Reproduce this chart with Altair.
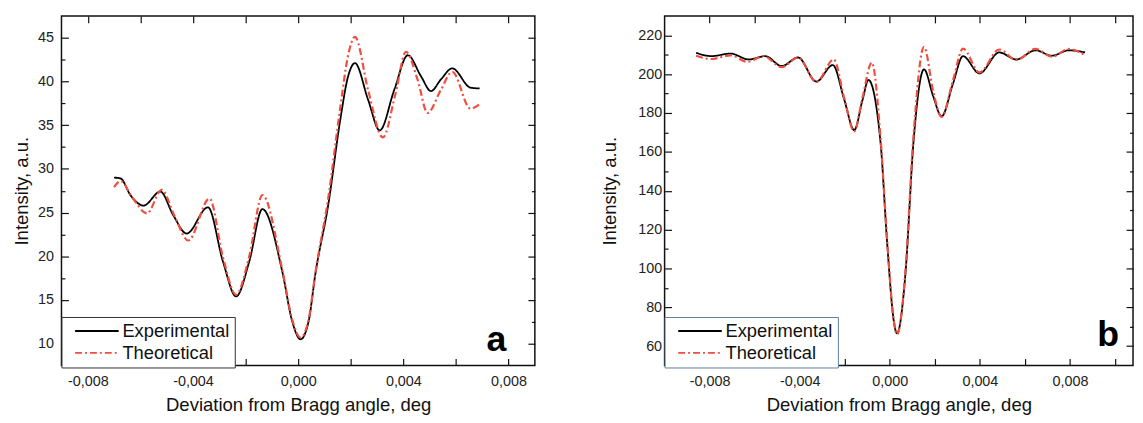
import altair as alt
import pandas as pd

FONT = "Liberation Sans"
RED = "#f04e3e"
DASH = [7, 3, 2, 3]
SERIES = ["Experimental", "Theoretical"]

# ---------------- panel a ----------------
a_exp_x = [-0.00700, -0.00675, -0.00638, -0.00588, -0.00524, -0.00475, -0.00424, -0.00343,
           -0.00286, -0.00236, -0.00186, -0.00136, -0.00060, -0.00023, 0.00009, 0.00040,
           0.00065, 0.00115, 0.00160, 0.00190, 0.00216, 0.00266, 0.00310, 0.00366,
           0.00417, 0.00467, 0.00505, 0.00542, 0.00586, 0.00655, 0.00690]
a_exp_y = [29.0, 28.9, 27.0, 25.8, 27.4, 24.7, 22.6, 25.6,
           19.4, 15.4, 19.4, 25.4, 18.2, 12.6, 10.5, 12.6,
           17.9, 26.0, 35.6, 40.6, 42.1, 37.9, 34.4, 39.1,
           43.0, 40.6, 38.9, 40.2, 41.5, 39.3, 39.2]
a_theo_x = [-0.00700, -0.00675, -0.00630, -0.00575, -0.00519, -0.00470, -0.00418, -0.00337,
            -0.00286, -0.00236, -0.00186, -0.00136, -0.00060, -0.00023, 0.00009, 0.00040,
            0.00065, 0.00115, 0.00160, 0.00190, 0.00216, 0.00266, 0.00322, 0.00370,
            0.00410, 0.00454, 0.00492, 0.00542, 0.00586, 0.00655, 0.00690]
a_theo_y = [27.9, 28.6, 26.7, 24.9, 27.6, 24.6, 21.8, 26.6,
            19.9, 15.6, 20.0, 27.0, 18.4, 12.8, 10.7, 12.8,
            18.0, 26.8, 37.0, 43.0, 45.1, 39.0, 33.6, 38.6,
            43.4, 40.2, 36.4, 39.0, 41.1, 36.9, 37.4]
a_xticks = [-0.008, -0.006, -0.004, -0.002, 0.0, 0.002, 0.004, 0.006, 0.008]
a_yticks = [10, 12.5, 15, 17.5, 20, 22.5, 25, 27.5, 30, 32.5, 35, 37.5, 40, 42.5, 45]

# ---------------- panel b ----------------
b_exp_x = [-0.00860, -0.00793, -0.00707, -0.00626, -0.00553, -0.00480, -0.00407, -0.00326,
           -0.00253, -0.00202, -0.00158, -0.00121, -0.00095, -0.00041, -0.00012, 0.00018,
           0.00032, 0.00069, 0.00105, 0.00152, 0.00193, 0.00230, 0.00281, 0.00325,
           0.00398, 0.00486, 0.00562, 0.00647, 0.00720, 0.00794, 0.00867]
b_exp_y = [211.0, 209.3, 210.6, 207.6, 209.3, 204.2, 208.6, 196.2,
           204.7, 186.8, 171.2, 186.8, 197.0, 164.7, 113.6, 72.7,
           66.5, 96.6, 164.7, 202.5, 188.5, 178.3, 195.3, 209.3,
           200.4, 211.2, 207.6, 212.3, 209.5, 212.3, 211.2]
b_theo_x = [-0.00860, -0.00793, -0.00707, -0.00633, -0.00560, -0.00480, -0.00407, -0.00326,
            -0.00249, -0.00202, -0.00158, -0.00121, -0.00080, -0.00041, -0.00012, 0.00018,
            0.00032, 0.00069, 0.00105, 0.00152, 0.00193, 0.00230, 0.00281, 0.00325,
            0.00398, 0.00486, 0.00562, 0.00647, 0.00720, 0.00794, 0.00867]
b_theo_y = [209.5, 207.8, 209.7, 206.4, 209.3, 203.6, 208.6, 196.0,
            207.6, 187.5, 170.5, 188.0, 206.0, 167.0, 115.0, 73.0,
            66.0, 98.0, 168.0, 214.1, 191.0, 178.0, 197.0, 213.2,
            200.9, 212.7, 207.3, 213.0, 209.0, 213.0, 209.8]
b_xticks = [-0.008, -0.006, -0.004, -0.002, 0.0, 0.002, 0.004, 0.006, 0.008, 0.010]
b_yticks = [60, 70, 80, 90, 100, 110, 120, 130, 140, 150, 160, 170, 180, 190, 200, 210, 220]


def make_df(ex, ey, tx, ty):
    return pd.concat([
        pd.DataFrame({"x": ex, "y": ey, "series": "Experimental"}),
        pd.DataFrame({"x": tx, "y": ty, "series": "Theoretical"}),
    ], ignore_index=True)


X_LABELS = ("abs(round(datum.value*1000)) % 4 === 0 ? "
            "(datum.value < -1e-9 ? '-' : '') + replace(format(abs(datum.value), '.3f'), '.', ',') : ''")


def panel(df, xdom, ydom, xticks, yticks, ymod, width, letter, lx, ly,
          legend_stroke, ylab_pad, ytitle_pad):
    xs = alt.Scale(domain=xdom, nice=False, zero=False)
    ys = alt.Scale(domain=ydom, nice=False, zero=False)
    minor = f"datum.value % {ymod} !== 0"
    ydash = {"condition": {"test": minor, "value": [3.5, 3.5]}, "value": [7, 0]}
    ydoff = {"condition": {"test": minor, "value": 3.5}, "value": 0}
    common = dict(offset=-7, tickSize=7, domain=False, grid=False,
                  tickColor="#111", tickWidth=1.2)
    legend = alt.Legend(title=None, orient="none", legendX=0, legendY=304,
                        symbolType="M-4,0H4", symbolSize=121, symbolStrokeWidth=2,
                        labelFontSize=18.5, labelFont=FONT, labelColor="#111",
                        strokeColor=legend_stroke, fillColor="white", padding=5,
                        symbolOffset=21.5, labelOffset=16.5, rowPadding=3, cornerRadius=0)
    color = alt.Color("series:N", scale=alt.Scale(domain=SERIES, range=["#000000", RED]),
                      legend=legend)
    dash = alt.StrokeDash("series:N", scale=alt.Scale(domain=SERIES, range=[[1, 0], DASH]),
                          legend=legend)

    exp = alt.Chart(df).transform_filter("datum.series === 'Experimental'").mark_line(
        strokeWidth=1.8, interpolate="monotone"
    ).encode(
        x=alt.X("x:Q", scale=xs, axis=alt.Axis(
            orient="bottom", values=xticks, labelExpr=X_LABELS, labelFlush=False,
            labelOverlap=False, labelPadding=9, title="Deviation from Bragg angle, deg",
            titlePadding=8, **common)),
        y=alt.Y("y:Q", scale=ys, axis=alt.Axis(
            orient="left", values=yticks,
            labelExpr=f"datum.value % {ymod} === 0 ? format(datum.value, 'd') : ''",
            labelFlush=False, labelOverlap=False, labelPadding=ylab_pad,
            title="Intensity, a.u.", titlePadding=ytitle_pad,
            tickDash=ydash, tickDashOffset=ydoff, **common)),
        color=color, strokeDash=dash,
    )
    theo = alt.Chart(df).transform_filter("datum.series === 'Theoretical'").mark_line(
        strokeWidth=2.2, interpolate="monotone"
    ).encode(
        x=alt.X("x:Q", scale=xs, axis=alt.Axis(
            orient="top", values=xticks, labels=False, title=None, **common)),
        y=alt.Y("y:Q", scale=ys, axis=alt.Axis(
            orient="right", values=yticks, labels=False, title=None,
            tickDash=ydash, tickDashOffset=ydoff, **common)),
        color=color, strokeDash=dash,
    )
    txt = alt.Chart(pd.DataFrame({"t": [letter]})).mark_text(
        font=FONT, fontSize=36, fontWeight="bold", align="center",
        baseline="alphabetic", color="#000"
    ).encode(
        x=alt.XDatum(lx, type="quantitative", axis=None),
        y=alt.YDatum(ly, type="quantitative", axis=None),
        text="t:N",
    )
    return alt.layer(exp, theo, txt).resolve_axis(
        x="independent", y="independent"
    ).properties(width=width, height=353)


pa = panel(make_df(a_exp_x, a_exp_y, a_theo_x, a_theo_y), [-0.009, 0.009], [7.5, 47.5],
           a_xticks, a_yticks, 5, 478, "a", 0.00754, 9.15, "#333333", 8, 6)
pb = panel(make_df(b_exp_x, b_exp_y, b_theo_x, b_theo_y), [-0.010, 0.0108], [50, 230],
           b_xticks, b_yticks, 20, 473, "b", 0.00969, 60.0, "#5f7f9a", 3, 18)

chart = alt.hconcat(pa, pb, spacing=64).resolve_scale(
    x="independent", y="independent", color="independent", strokeDash="independent"
).resolve_legend(color="independent", strokeDash="independent").properties(
    padding={"left": 4, "top": 4, "right": 0, "bottom": 0}
).configure(font=FONT).configure_view(stroke="#111", strokeWidth=1.5).configure_axis(
    labelFont=FONT, titleFont=FONT, labelFontSize=14.5, titleFontSize=18.7,
    titleFontWeight="normal", labelColor="#222", titleColor="#111"
)

chart.save("out.html", embed_options={"renderer": "svg", "actions": False})
